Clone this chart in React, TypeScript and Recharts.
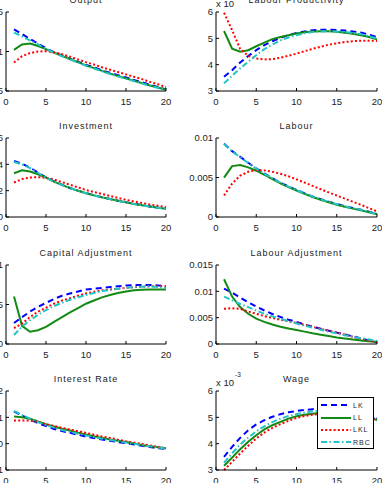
import React from "react";
import { LineChart, Line, XAxis, YAxis, Legend } from "recharts";

// quarters after the shock
const steps = [1, 2, 3, 4, 5, 6, 7, 8, 9, 10, 11, 12, 13, 14, 15, 16, 17, 18, 19, 20];
const xTicks = [0, 5, 10, 15, 20];

// Output
const outputLK = [0.0128, 0.0122, 0.0116, 0.011, 0.0104, 0.0099, 0.0095, 0.0091, 0.0087, 0.0083, 0.008, 0.0076, 0.0073, 0.007, 0.0067, 0.0064, 0.0061, 0.0058, 0.0055, 0.0052];
const outputLL = [0.0102, 0.0109, 0.011, 0.0107, 0.0103, 0.00985, 0.00945, 0.00905, 0.00865, 0.00825, 0.0079, 0.00755, 0.0072, 0.0069, 0.0066, 0.0063, 0.006, 0.0057, 0.00545, 0.00515];
const outputLKL = [0.0086, 0.0094, 0.0098, 0.01, 0.01005, 0.0099, 0.00965, 0.00935, 0.009, 0.00865, 0.00835, 0.008, 0.0077, 0.0074, 0.0071, 0.0068, 0.0065, 0.00615, 0.00585, 0.0055];
const outputRBC = [0.0124, 0.0119, 0.0114, 0.0109, 0.01035, 0.00985, 0.0094, 0.009, 0.0086, 0.0082, 0.00785, 0.0075, 0.00715, 0.00685, 0.00655, 0.00625, 0.00595, 0.00565, 0.0054, 0.0051];

// Labour productivity (x 10^-3)
const prodLK = [3.54, 3.79, 4.08, 4.33, 4.55, 4.74, 4.89, 5.02, 5.12, 5.2, 5.26, 5.31, 5.33, 5.33, 5.32, 5.3, 5.26, 5.22, 5.14, 5.05];
const prodLL = [5.28, 4.61, 4.49, 4.55, 4.7, 4.84, 4.97, 5.05, 5.12, 5.18, 5.23, 5.26, 5.27, 5.27, 5.25, 5.21, 5.17, 5.12, 5.05, 4.96];
const prodLKL = [5.97, 5.31, 4.6, 4.33, 4.23, 4.2, 4.21, 4.26, 4.34, 4.42, 4.51, 4.6, 4.68, 4.76, 4.81, 4.86, 4.89, 4.91, 4.91, 4.9];
const prodRBC = [3.29, 3.58, 3.86, 4.11, 4.36, 4.59, 4.76, 4.92, 5.03, 5.12, 5.19, 5.24, 5.26, 5.27, 5.26, 5.24, 5.21, 5.16, 5.08, 4.99];

// Investment
const invLK = [0.0425, 0.0405, 0.0375, 0.0338, 0.03, 0.027, 0.0245, 0.022, 0.02, 0.0182, 0.0165, 0.015, 0.0137, 0.0124, 0.0112, 0.01, 0.009, 0.008, 0.0071, 0.0063];
const invLL = [0.0332, 0.0355, 0.0345, 0.0325, 0.03, 0.0269, 0.0244, 0.0219, 0.0199, 0.0181, 0.0164, 0.0149, 0.0136, 0.0123, 0.0111, 0.0099, 0.0089, 0.0079, 0.007, 0.0062];
const invLKL = [0.0262, 0.0288, 0.03, 0.0303, 0.0298, 0.0285, 0.0265, 0.0245, 0.0225, 0.0205, 0.019, 0.0175, 0.016, 0.0145, 0.013, 0.0118, 0.0106, 0.0095, 0.0085, 0.0075];
const invRBC = [0.0418, 0.04, 0.0372, 0.0336, 0.0298, 0.0268, 0.0243, 0.0219, 0.0199, 0.0181, 0.0164, 0.0149, 0.0136, 0.0123, 0.0111, 0.0099, 0.0089, 0.0079, 0.007, 0.0062];

// Labour
const labLK = [0.00929, 0.00833, 0.00762, 0.00686, 0.00615, 0.00552, 0.00492, 0.00435, 0.00387, 0.00343, 0.003, 0.00259, 0.00225, 0.00193, 0.00163, 0.00137, 0.00113, 0.00092, 0.00066, 0.0004];
const labLL = [0.00498, 0.00644, 0.00657, 0.00628, 0.00586, 0.00535, 0.0048, 0.00425, 0.00378, 0.00335, 0.00293, 0.00253, 0.00218, 0.00186, 0.00156, 0.0013, 0.00106, 0.00084, 0.0006, 0.00036];
const labLKL = [0.00272, 0.00423, 0.00523, 0.00573, 0.00594, 0.0059, 0.00573, 0.00548, 0.00515, 0.00477, 0.00436, 0.00393, 0.00352, 0.00311, 0.00272, 0.00233, 0.00193, 0.00155, 0.00112, 0.00071];
const labRBC = [0.00925, 0.0083, 0.00758, 0.00683, 0.00612, 0.00549, 0.00489, 0.00433, 0.00385, 0.00341, 0.00298, 0.00258, 0.00224, 0.00192, 0.00162, 0.00136, 0.00112, 0.00091, 0.00065, 0.0004];

// Capital adjustment
const capLK = [0.00265, 0.0034, 0.0041, 0.0047, 0.0052, 0.0057, 0.0061, 0.0064, 0.00665, 0.0069, 0.007, 0.0071, 0.0072, 0.0073, 0.0074, 0.00745, 0.00747, 0.00747, 0.00742, 0.00735];
const capLL = [0.006, 0.0023, 0.00155, 0.00175, 0.00216, 0.0028, 0.0034, 0.004, 0.00455, 0.0051, 0.0055, 0.0059, 0.0062, 0.00645, 0.00665, 0.0068, 0.00687, 0.0069, 0.0069, 0.0069];
const capLKL = [0.002, 0.0026, 0.0034, 0.0041, 0.0046, 0.0051, 0.0055, 0.0058, 0.0061, 0.0064, 0.0066, 0.0068, 0.0069, 0.007, 0.0071, 0.0072, 0.00725, 0.0073, 0.0073, 0.0073];
const capRBC = [0.00114, 0.0022, 0.003, 0.0037, 0.0043, 0.0048, 0.0052, 0.0056, 0.0059, 0.0062, 0.00645, 0.0067, 0.00685, 0.007, 0.0071, 0.0072, 0.00725, 0.0073, 0.0072, 0.0071];

// Labour adjustment
const ladjLK = [0.0105, 0.00975, 0.0088, 0.0079, 0.0071, 0.00636, 0.0057, 0.00512, 0.00462, 0.0042, 0.00372, 0.00327, 0.0029, 0.00252, 0.00216, 0.0018, 0.00145, 0.0011, 0.0006, 0.0003];
const ladjLL = [0.0123, 0.009, 0.007, 0.00574, 0.0048, 0.0042, 0.0037, 0.00327, 0.00295, 0.00265, 0.00235, 0.00204, 0.00177, 0.0015, 0.00123, 0.00103, 0.00085, 0.00068, 0.00052, 0.00037];
const ladjLKL = [0.00667, 0.0068, 0.00667, 0.00617, 0.00574, 0.0053, 0.00495, 0.0046, 0.0043, 0.004, 0.00363, 0.00327, 0.0029, 0.00252, 0.00216, 0.00178, 0.00138, 0.001, 0.00065, 0.00037];
const ladjRBC = [0.009, 0.0083, 0.0076, 0.007, 0.00636, 0.00574, 0.00525, 0.0048, 0.00433, 0.0039, 0.00348, 0.0031, 0.00272, 0.00236, 0.002, 0.00168, 0.00138, 0.0011, 0.00085, 0.0006];

// Interest rate
const rateLK = [0.0122, 0.0107, 0.0092, 0.0078, 0.0067, 0.0056, 0.0048, 0.0041, 0.0034, 0.0027, 0.0021, 0.0016, 0.0011, 0.0006, 0.0002, -0.0003, -0.0008, -0.0013, -0.0017, -0.002];
const rateLL = [0.0103, 0.01, 0.0095, 0.0084, 0.0074, 0.0065, 0.0057, 0.005, 0.0042, 0.0035, 0.0028, 0.0022, 0.0016, 0.0011, 0.0006, 0.0001, -0.0005, -0.001, -0.0014, -0.0017];
const rateLKL = [0.0088, 0.0088, 0.0088, 0.0082, 0.0074, 0.0067, 0.006, 0.0054, 0.0047, 0.0041, 0.0034, 0.0027, 0.0022, 0.0015, 0.0009, 0.0004, -0.0001, -0.0007, -0.0012, -0.0017];
const rateRBC = [0.0124, 0.0109, 0.0095, 0.0082, 0.0071, 0.0061, 0.0052, 0.0045, 0.0038, 0.0031, 0.0025, 0.0019, 0.0014, 0.0009, 0.0004, 0, -0.0005, -0.001, -0.0014, -0.0018];

// Wage (x 10^-3)
const wageLK = [3.5, 3.88, 4.22, 4.51, 4.73, 4.89, 5.02, 5.12, 5.19, 5.24, 5.28, 5.31, 5.33, 5.34, 5.33, 5.31, 5.26, 5.19, 5.08, 4.95];
const wageLL = [3.16, 3.47, 3.79, 4.07, 4.32, 4.54, 4.7, 4.83, 4.95, 5.04, 5.1, 5.14, 5.17, 5.18, 5.18, 5.16, 5.12, 5.06, 4.99, 4.9];
const wageLKL = [3.0, 3.31, 3.63, 3.92, 4.2, 4.42, 4.6, 4.74, 4.87, 4.98, 5.05, 5.1, 5.14, 5.16, 5.16, 5.15, 5.12, 5.07, 5.0, 4.92];
const wageRBC = [3.28, 3.63, 3.97, 4.23, 4.47, 4.66, 4.82, 4.95, 5.05, 5.12, 5.18, 5.23, 5.26, 5.27, 5.27, 5.25, 5.2, 5.13, 5.04, 4.93];

const SERIES = [
  { key: "LK", color: "#0000ff", dash: "6 4" },
  { key: "LL", color: "#138a13", dash: undefined },
  { key: "LKL", color: "#ff0000", dash: "2 2.2" },
  { key: "RBC", color: "#22c4c4", dash: "6 2.5 1.5 2.5" },
];

const FONT = '"Liberation Sans", Arial, sans-serif';
const AXIS_W = 40;
const PAD = 3;
const PAD_R = 12; // room for the last x tick label
const X_H = 20;
const PLOT_H = 79;
const COL_X = [6, 216];
const COL_W = [160, 161];
const ROW_Y = [12, 138, 265, 391];

type PanelDef = {
  title: string;
  col: number;
  row: number;
  domain: [number, number];
  ticks: number[];
  lines: number[][];
  scaled?: boolean;
  legend?: boolean;
};

const PANELS: PanelDef[] = [
  { title: "Output", col: 0, row: 0, domain: [0.005, 0.015], ticks: [0.005, 0.01, 0.015], lines: [outputLK, outputLL, outputLKL, outputRBC] },
  { title: "Labour Productivity", col: 1, row: 0, domain: [3, 6], ticks: [3, 4, 5, 6], lines: [prodLK, prodLL, prodLKL, prodRBC], scaled: true },
  { title: "Investment", col: 0, row: 1, domain: [0, 0.06], ticks: [0, 0.02, 0.04, 0.06], lines: [invLK, invLL, invLKL, invRBC] },
  { title: "Labour", col: 1, row: 1, domain: [0, 0.01], ticks: [0, 0.005, 0.01], lines: [labLK, labLL, labLKL, labRBC] },
  { title: "Capital Adjustment", col: 0, row: 2, domain: [0, 0.01], ticks: [0, 0.005, 0.01], lines: [capLK, capLL, capLKL, capRBC] },
  { title: "Labour Adjustment", col: 1, row: 2, domain: [0, 0.015], ticks: [0, 0.005, 0.01, 0.015], lines: [ladjLK, ladjLL, ladjLKL, ladjRBC] },
  { title: "Interest Rate", col: 0, row: 3, domain: [-0.01, 0.02], ticks: [-0.01, 0, 0.01, 0.02], lines: [rateLK, rateLL, rateLKL, rateRBC] },
  { title: "Wage", col: 1, row: 3, domain: [3, 6], ticks: [3, 4, 5, 6], lines: [wageLK, wageLL, wageLKL, wageRBC], scaled: true, legend: true },
];

const tickStyle = { fill: "#222", fontSize: 9.5 };
const blank = () => "";

const renderLegend = () => (
  <div
    style={{
      width: 57,
      height: 52,
      border: "1px solid #000",
      background: "#fff",
      boxSizing: "border-box",
      padding: "1px 0 0 3px",
      fontFamily: FONT,
    }}
  >
    {SERIES.map((s) => (
      <div key={s.key} style={{ display: "flex", alignItems: "center", height: 12.4 }}>
        <svg width={30} height={6}>
          <line x1={0} y1={3} x2={30} y2={3} stroke={s.color} strokeWidth={2} strokeDasharray={s.dash} />
        </svg>
        <span style={{ fontSize: 7, letterSpacing: 1, marginLeft: 2, color: "#222" }}>{s.key}</span>
      </div>
    ))}
  </div>
);

function Panel({ p }: { p: PanelDef }) {
  const left = COL_X[p.col];
  const top = ROW_Y[p.row];
  const w = COL_W[p.col];
  const data = steps.map((x, i) => {
    const row: Record<string, number> = { x };
    SERIES.forEach((s, k) => {
      row[s.key] = p.lines[k][i];
    });
    return row;
  });

  return (
    <>
      <div
        style={{
          position: "absolute",
          left,
          top: top - 17,
          width: w,
          textAlign: "center",
          fontSize: 9,
          lineHeight: "10px",
          letterSpacing: 1,
          color: "#222",
          whiteSpace: "nowrap",
        }}
      >
        {p.title}
      </div>
      {p.scaled && (
        <>
          <div style={{ position: "absolute", left, top: top - 13, fontSize: 9.5, lineHeight: "10px", color: "#222" }}>x 10</div>
          <div style={{ position: "absolute", left: left + 19, top: top - 20, fontSize: 6.5, lineHeight: "7px", color: "#222" }}>-3</div>
        </>
      )}
      <div style={{ position: "absolute", left: left - AXIS_W, top: top - PAD }}>
        <LineChart
          width={AXIS_W + w + PAD_R}
          height={PAD + PLOT_H + X_H}
          data={data}
          margin={{ top: PAD, right: PAD_R, bottom: 0, left: 0 }}
        >
          <XAxis
            dataKey="x"
            type="number"
            domain={[0, 20]}
            ticks={xTicks}
            interval={0}
            tickSize={-3}
            tickMargin={10}
            height={X_H}
            stroke="#000"
            tick={tickStyle}
          />
          <XAxis
            xAxisId="top"
            orientation="top"
            dataKey="x"
            type="number"
            domain={[0, 20]}
            ticks={xTicks}
            interval={0}
            tickSize={-3}
            height={0}
            stroke="#000"
            tickFormatter={blank}
          />
          <YAxis
            type="number"
            domain={p.domain}
            ticks={p.ticks}
            interval={0}
            tickSize={-3}
            tickMargin={6}
            width={AXIS_W}
            stroke="#000"
            tick={tickStyle}
          />
          <YAxis
            yAxisId="right"
            orientation="right"
            type="number"
            domain={p.domain}
            ticks={p.ticks}
            interval={0}
            tickSize={-3}
            width={0}
            stroke="#000"
            tickFormatter={blank}
          />
          {SERIES.map((s) => (
            <Line
              key={s.key}
              type="linear"
              dataKey={s.key}
              name={s.key}
              stroke={s.color}
              strokeWidth={2}
              strokeDasharray={s.dash}
              dot={false}
              activeDot={false}
              isAnimationActive={false}
            />
          ))}
          {p.legend && (
            <Legend
              content={renderLegend}
              layout="vertical"
              align="center"
              verticalAlign="middle"
              wrapperStyle={{ left: 141, top: 9, width: 57, height: 52 }}
            />
          )}
        </LineChart>
      </div>
    </>
  );
}

export default function App() {
  return (
    <div
      style={{
        position: "fixed",
        left: 0,
        top: 0,
        width: 382,
        height: 483,
        overflow: "hidden",
        background: "#fff",
        fontFamily: FONT,
      }}
    >
      {PANELS.map((p) => (
        <Panel key={p.title} p={p} />
      ))}
    </div>
  );
}
